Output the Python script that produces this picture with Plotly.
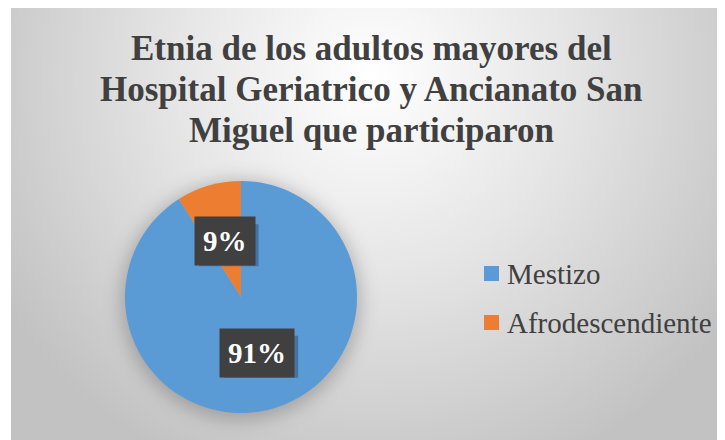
import math
import plotly.graph_objects as go

# datos
etnias = ["Mestizo", "Afrodescendiente"]
porcentajes = [91, 9]
colores = ["#5B9BD5", "#ED7D31"]
titulo = ["Etnia de los adultos mayores del",
          "Hospital Geriatrico y Ancianato San",
          "Miguel que participaron"]

W, H = 725, 440
OFF = 8  # margen del body de la pagina
SERIF = "Liberation Serif"
GRIS = "#404040"
FS = 29  # tamaño de las etiquetas
PAD = 8


def px2x(x):
    return (x - OFF) / W


def px2y(y):
    return 1 - (y - OFF) / H


# posicion del pastel (px en la captura)
cx, cy, r = 241, 297, 116
dom_x = [px2x(cx - r), px2x(cx + r)]
dom_y = [px2y(cy + r), px2y(cy - r)]

# area del grafico
ax0, ay0 = 11, 7
aw, ah = W - ax0 + OFF, H - ay0 + OFF

fondo = f"""<svg xmlns='http://www.w3.org/2000/svg' width='{aw}' height='{ah}' viewBox='0 0 {aw} {ah}' preserveAspectRatio='none'>
<defs>
<radialGradient id='g' cx='360' cy='70' r='430' gradientUnits='userSpaceOnUse'>
<stop offset='0' stop-color='#ffffff'/>
<stop offset='0.45' stop-color='#e6e6e6'/>
<stop offset='1' stop-color='#c2c2c2'/>
</radialGradient>
<filter id='b' x='-50%' y='-50%' width='200%' height='200%'><feGaussianBlur stdDeviation='9'/></filter>
</defs>
<rect width='{aw}' height='{ah}' fill='url(#g)'/>
<circle cx='{cx - ax0}' cy='{cy - ay0 + 3}' r='{r + 4}' fill='#000' fill-opacity='0.22' filter='url(#b)'/>
</svg>"""
fondo_uri = "data:image/svg+xml;utf8," + fondo.replace("\n", "").replace("#", "%23")

fig = go.Figure()
fig.add_trace(go.Pie(
    labels=etnias, values=porcentajes, sort=False, direction="clockwise", rotation=0,
    marker=dict(colors=colores, line=dict(width=0)),
    textinfo="none", hoverinfo="label+percent", showlegend=False,
    domain=dict(x=dom_x, y=dom_y),
))

anotaciones = []
formas = []

# titulo
for i, linea in enumerate(titulo):
    anotaciones.append(dict(
        text=f"<b>{linea}</b>", x=px2x(372), y=px2y(48 + 41 * i),
        xref="paper", yref="paper", xanchor="center", yanchor="middle",
        showarrow=False, font=dict(family=SERIF, size=35, color=GRIS)))

# etiquetas de porcentaje a media distancia del radio
total = sum(porcentajes)
acum = 0
for v in porcentajes:
    medio = (acum + v / 2) / total * 2 * math.pi
    acum += v
    lx = cx + 0.5 * r * math.sin(medio)
    ly = cy - 0.5 * r * math.cos(medio)
    pct = str(round(v / total * 100))
    # sombra de la caja (tamaño aproximado del texto)
    bw = (len(pct) * 0.5 + 1) * FS / 2 + PAD
    bh = 21
    formas.append(dict(type="rect", xref="paper", yref="paper",
                       x0=px2x(lx + 4 - bw), x1=px2x(lx + 4 + bw),
                       y0=px2y(ly + 4 + bh), y1=px2y(ly + 4 - bh),
                       fillcolor="rgba(20,40,70,0.35)", line=dict(width=0)))
    anotaciones.append(dict(
        text=f"<b>{pct}%</b>", x=px2x(lx), y=px2y(ly), xref="paper", yref="paper",
        xanchor="center", yanchor="middle",
        showarrow=False, font=dict(family=SERIF, size=FS, color="white"),
        bgcolor=GRIS, borderpad=PAD))

# leyenda
for i, (et, col) in enumerate(zip(etnias, colores)):
    yc = 273.5 + 49 * i
    formas.append(dict(type="rect", xref="paper", yref="paper",
                       x0=px2x(484), x1=px2x(499), y0=px2y(yc - 7.5), y1=px2y(yc + 7.5),
                       fillcolor=col, line=dict(width=0)))
    anotaciones.append(dict(
        text=et, x=px2x(505), y=px2y(yc), xref="paper", yref="paper",
        xanchor="left", yanchor="middle", showarrow=False,
        font=dict(family=SERIF, size=FS, color=GRIS)))

# borde superior del area
formas.append(dict(type="line", xref="paper", yref="paper", x0=px2x(ax0), x1=1,
                   y0=px2y(ay0), y1=px2y(ay0), line=dict(color="#c8c8c8", width=1)))

fig.update_layout(
    width=W, height=H, margin=dict(l=0, r=0, t=0, b=0),
    paper_bgcolor="white", plot_bgcolor="white",
    annotations=anotaciones, shapes=formas,
    images=[dict(source=fondo_uri, xref="paper", yref="paper",
                 x=px2x(ax0), y=px2y(ay0), sizex=aw / W, sizey=ah / H,
                 sizing="stretch", xanchor="left", yanchor="top", layer="below")],
)

fig.write_html("out.html")
